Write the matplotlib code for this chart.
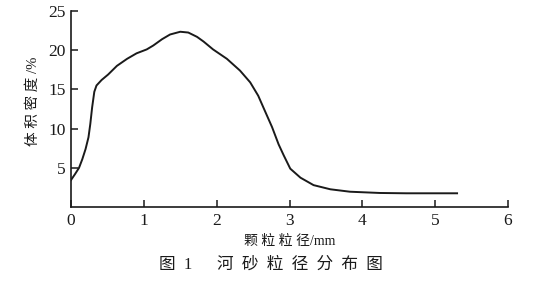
import matplotlib.pyplot as plt

# --- particle size distribution ---
size_mm = [0.0, 0.055, 0.11, 0.155, 0.20, 0.24, 0.265, 0.29, 0.32, 0.35,
           0.42, 0.51, 0.63, 0.77, 0.90, 1.04, 1.13, 1.25, 1.36, 1.50,
           1.61, 1.73, 1.82, 1.95, 2.14, 2.32, 2.46, 2.57, 2.66, 2.76,
           2.85, 2.92, 3.01, 3.15, 3.33, 3.56, 3.83, 4.24, 4.6, 5.3]
density = [3.45, 4.2, 5.0, 6.1, 7.4, 8.9, 10.6, 12.7, 14.7, 15.5,
           16.2, 16.9, 18.0, 18.9, 19.6, 20.1, 20.6, 21.4, 22.0, 22.35,
           22.25, 21.7, 21.1, 20.1, 18.9, 17.4, 15.9, 14.2, 12.3, 10.2,
           8.0, 6.6, 4.9, 3.75, 2.8, 2.27, 1.96, 1.8, 1.76, 1.76]
xticks = [0, 1, 2, 3, 4, 5, 6]
yticks = [5, 10, 15, 20, 25]

txt_font = ["Liberation Serif", "Noto Sans CJK SC", "DejaVu Sans"]
num = "Liberation Serif"
ink = "#1a1a1a"

fig = plt.figure(figsize=(5.47, 2.81), dpi=100)
ax = fig.add_axes([0.1298, 0.263, 0.799, 0.698])

ax.plot(size_mm, density, color=ink, lw=1.4, solid_joinstyle="round")

ax.set_xlim(0, 6)
ax.set_ylim(0, 25)
ax.set_xticks(xticks)
ax.set_yticks(yticks)
ax.set_xticklabels([str(t) for t in xticks], fontfamily=num, fontsize=12.5)
ax.set_yticklabels([str(t) for t in yticks], fontfamily=num, fontsize=12.5)
ax.tick_params(direction="in", length=5, width=1.1, colors=ink, pad=4)

for s in ["top", "right"]:
    ax.spines[s].set_visible(False)
for s in ["left", "bottom"]:
    ax.spines[s].set_linewidth(1.2)
    ax.spines[s].set_color(ink)

fig.text(0.06, 0.64, "体 积 密 度 /%", rotation=90, ha="center", va="center",
         family=txt_font, fontsize=10.5, color=ink)
fig.text(0.529, 0.142, "颗 粒 粒 径/mm", ha="center", va="center",
         family=txt_font, fontsize=10, color=ink)
fig.text(0.496, 0.057, "图  1      河  砂  粒  径  分  布  图", ha="center", va="center",
         family=txt_font, fontsize=12, color=ink)

fig.savefig("out.png", dpi=100)
